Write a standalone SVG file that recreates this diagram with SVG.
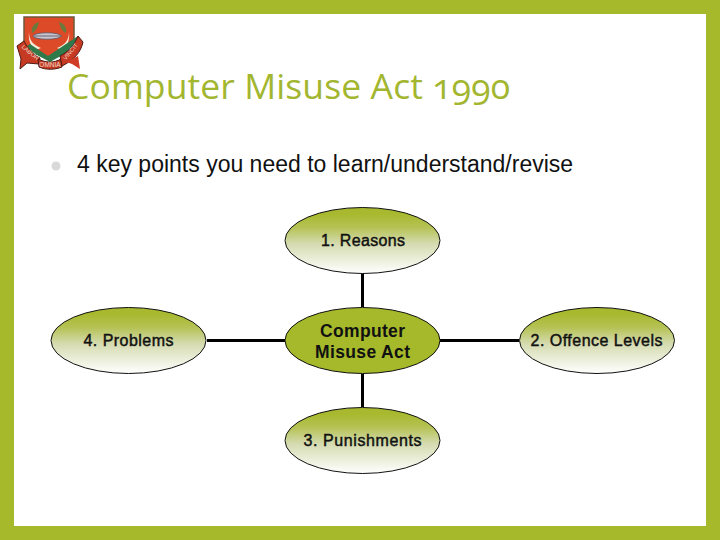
<svg xmlns="http://www.w3.org/2000/svg" width="720" height="540" viewBox="0 0 720 540">
<style>
.n{stroke:#111;stroke-width:1}
.t{font-family:"Liberation Sans",Arial,sans-serif;font-size:16px;fill:#111;text-anchor:middle;stroke:#111;stroke-width:.45}
.b{font-family:"Liberation Sans",Arial,sans-serif;font-size:17.500px;font-weight:bold;fill:#111;text-anchor:middle}
.c{stroke:#000;stroke-width:3;fill:none}
.s{font-family:"Liberation Sans",Arial,sans-serif;fill:#f0d8c8;text-anchor:middle}
</style>
<defs>
<linearGradient id="g" x1="0" y1="0" x2="0" y2="1">
<stop offset="0.1" stop-color="#a8b92f"/>
<stop offset="0.3" stop-color="#b5c254"/>
<stop offset="0.55" stop-color="#d5dbb0"/>
<stop offset="1" stop-color="#ffffff"/>
</linearGradient>
</defs>
<rect width="720" height="540" fill="#a6b92b"/>
<rect x="14" y="14" width="692" height="512" fill="#ffffff"/>

<g id="logo">
<path d="M24 17H74V48L50 60L24 48Z" fill="#dd4a28" stroke="#6f5a3a" stroke-width="1.500"/>
<path d="M29 32C29 40 33 45 41 48L36 50C31 47 28 41 29 32ZM69 32C69 40 65 45 57 48L62 50C67 47 70 41 69 32Z" fill="#f2ecd8"/>
<path d="M39 22C33 24 31 28 32 33C36 31 38 27 39 22ZM59 22C65 24 67 28 66 33C62 31 60 27 59 22Z" fill="#6b7a3c"/>
<ellipse cx="47" cy="36" rx="14" ry="3.200" fill="#c9c6d2" stroke="#5a5660" stroke-width=".8"/>
<rect x="33" y="35.500" width="29" height="1" fill="#6a6670"/>
<path d="M30 44L48 56L78 36L82 44L50 62L24 48Z" fill="#2e7a4a"/>
<path d="M17 46L24 41C28 49 34 55 40 58L39 64L27 63L20 69L21 59Z" fill="#c63a24" stroke="#4e1a12"/>
<path d="M38 59C46 63 54 63 61 59L62 67C54 70 46 70 39 67Z" fill="#c63a24" stroke="#4e1a12"/>
<path d="M60 56C68 52 74 46 78 36L83 42C81 52 74 60 62 66Z" fill="#c63a24" stroke="#4e1a12"/>
<path d="M66 62L78 56L80 69L72 64Z" fill="#cf3d26"/>
<text class="s" transform="translate(29 54) rotate(40)" font-size="6">LABOR</text>
<text class="s" x="50" y="66.500" font-size="6.500">OMNIA</text>
<text class="s" transform="translate(72 53) rotate(-50)" font-size="6">VINCIT</text>
</g>

<text x="67" y="99" font-family="'Open Sans','Noto Sans',sans-serif" font-size="35.500" fill="#a3b62f" style="font-variant-numeric:oldstyle-nums" textLength="443" lengthAdjust="spacing">Computer Misuse Act 1990</text>

<circle cx="56" cy="166" r="4.500" fill="#d9d9d9"/>
<text x="77" y="172" font-family="'Liberation Sans',Arial,sans-serif" font-size="23" fill="#111">4 key points you need to learn/understand/revise</text>

<g id="connectors">
<path class="c" d="M362.500 273V307"/>
<path class="c" d="M362.500 374V407"/>
<path class="c" d="M207 340.500H285"/>
<path class="c" d="M440 340.500H519"/>
</g>

<g id="node-center">
<ellipse class="n" cx="362.500" cy="340.500" rx="77.500" ry="33" fill="#a6b92b"/>
<text class="b" x="362.500" y="337" textLength="85">Computer</text>
<text class="b" x="362.500" y="357.500" textLength="95">Misuse Act</text>
</g>
<g id="node-1">
<ellipse class="n" cx="362.500" cy="240.500" rx="77.500" ry="33" fill="url(#g)"/>
<text class="t" x="363" y="246" textLength="84">1. Reasons</text>
</g>
<g id="node-2">
<ellipse class="n" cx="597" cy="340.500" rx="77.500" ry="33" fill="url(#g)"/>
<text class="t" x="596.500" y="346" textLength="132">2. Offence Levels</text>
</g>
<g id="node-3">
<ellipse class="n" cx="362.500" cy="440.500" rx="77.500" ry="33" fill="url(#g)"/>
<text class="t" x="362.500" y="446" textLength="118">3. Punishments</text>
</g>
<g id="node-4">
<ellipse class="n" cx="128.500" cy="340.500" rx="77.500" ry="33" fill="url(#g)"/>
<text class="t" x="128.500" y="346" textLength="90">4. Problems</text>
</g>
</svg>
